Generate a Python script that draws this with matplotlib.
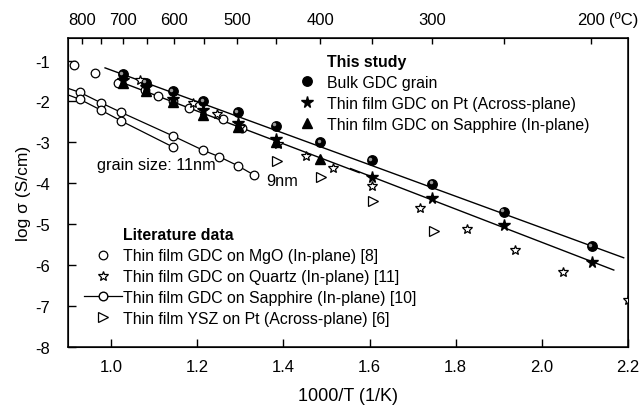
import matplotlib

matplotlib.use("Agg")
import matplotlib.pyplot as plt
import matplotlib.transforms as mtransforms

plt.rcParams["font.family"] = ["Liberation Sans", "DejaVu Sans"]
plt.rcParams["axes.unicode_minus"] = False

# --- data (x = 1000/T in 1/K, y = log sigma) ---
bulk_x = [1.028, 1.081, 1.144, 1.214, 1.294, 1.382, 1.486, 1.605, 1.746, 1.911, 2.116]
bulk_y = [-1.34, -1.55, -1.75, -2.00, -2.27, -2.60, -3.00, -3.44, -4.01, -4.70, -5.54]
bulk_fit_x = [0.986, 2.190]
bulk_fit_y = [-1.18, -5.82]

pt_x = [1.028, 1.081, 1.144, 1.214, 1.294, 1.382, 1.605, 1.746, 1.911, 2.116]
pt_y = [-1.48, -1.65, -1.93, -2.22, -2.52, -2.92, -3.84, -4.35, -5.01, -5.92]
pt_fit_x = [1.556, 2.167]
pt_fit_y = [-3.64, -6.12]

sapph_x = [1.028, 1.081, 1.144, 1.214, 1.294, 1.382, 1.486]
sapph_y = [-1.56, -1.75, -2.02, -2.32, -2.62, -2.98, -3.40]
sapph_fit_x = [1.021, 1.576]
sapph_fit_y = [-1.52, -3.74]

mgo_x = [0.914, 0.963, 1.017, 1.079, 1.110, 1.144, 1.180, 1.260, 1.303]
mgo_y = [-1.10, -1.30, -1.54, -1.71, -1.86, -2.00, -2.16, -2.42, -2.64]

quartz_x = [1.066, 1.190, 1.245, 1.299, 1.388, 1.452, 1.516, 1.605, 1.716, 1.826, 1.938, 2.050, 2.200]
quartz_y = [-1.48, -2.05, -2.30, -2.62, -3.03, -3.33, -3.63, -4.07, -4.61, -5.11, -5.62, -6.17, -6.86]

lit_sapph_a_x = [0.900, 0.928, 0.976, 1.024, 1.143, 1.213, 1.251, 1.294, 1.332]
lit_sapph_a_y = [-1.68, -1.78, -2.03, -2.27, -2.84, -3.19, -3.35, -3.57, -3.80]
lit_sapph_b_x = [0.900, 0.928, 0.976, 1.024, 1.143]
lit_sapph_b_y = [-1.84, -1.95, -2.21, -2.48, -3.11]

ysz_x = [1.386, 1.488, 1.607, 1.750]
ysz_y = [-3.46, -3.85, -4.44, -5.17]

top_temps_major = [800, 700, 600, 500, 400, 300, 200]
top_temps_minor = [750, 650, 550, 450, 350, 250]
top_labels = ["800", "700", "600", "500", "400", "300", "200"]

fig = plt.figure(figsize=(6.4, 4.14), dpi=100)
ax = fig.add_axes([68 / 640, 1 - 348 / 414, 560 / 640, 309 / 414])

# fitted lines
ax.plot(bulk_fit_x, bulk_fit_y, "k-", lw=1.0)
ax.plot(pt_fit_x, pt_fit_y, "k-", lw=1.0)
ax.plot(sapph_fit_x, sapph_fit_y, "k-", lw=1.0)

# literature
ax.plot(lit_sapph_a_x, lit_sapph_a_y, "k-", lw=0.9, zorder=2)
ax.plot(lit_sapph_b_x, lit_sapph_b_y, "k-", lw=0.9, zorder=2)
ax.plot(lit_sapph_a_x[1:], lit_sapph_a_y[1:], "o", ms=6.2, mfc="white",
        mec="k", mew=0.9, zorder=3)
ax.plot(lit_sapph_b_x[1:], lit_sapph_b_y[1:], "o", ms=6.2, mfc="white",
        mec="k", mew=0.9, zorder=3)
h_mgo, = ax.plot(mgo_x, mgo_y, "o", ms=6.2, mfc="white", mec="k", mew=0.9, zorder=3)
h_qz, = ax.plot(quartz_x, quartz_y, "*", ms=7.8, mfc="white", mec="k", mew=0.9, zorder=3)
h_ysz, = ax.plot(ysz_x, ysz_y, ">", ms=6.5, mfc="white", mec="k", mew=0.9, zorder=3)

# this study
h_sa, = ax.plot(sapph_x, sapph_y, "^", ms=7, color="k", zorder=4)
h_pt, = ax.plot(pt_x, pt_y, "*", ms=8.5, color="k", zorder=5)
h_bulk, = ax.plot(bulk_x, bulk_y, "o", ms=6.8, color="k", zorder=6)
shine = mtransforms.offset_copy(ax.transData, fig=fig, x=-1.2, y=1.2, units="points")
ax.plot(bulk_x, bulk_y, "o", ms=2.5, color="#9a9a9a", mew=0, transform=shine, zorder=7)

ax.text(0.967, -3.54, "grain size: 11nm", fontsize=11.8, va="center")
ax.text(1.361, -3.93, "9nm", fontsize=11.8, va="center")

ax.set_xlim(0.9, 2.2)
ax.set_ylim(-8, -0.45)
ax.set_xticks([1.0, 1.2, 1.4, 1.6, 1.8, 2.0, 2.2])
ax.set_yticks([-8, -7, -6, -5, -4, -3, -2, -1])
ax.tick_params(direction="in", length=6, width=1, labelsize=12, top=False, right=False)
ax.tick_params(axis="x", pad=9)
ax.tick_params(axis="y", pad=13)
ax.set_xlabel("1000/T (1/K)", fontsize=13, labelpad=9)
ax.set_ylabel("log σ (S/cm)", fontsize=12.5, labelpad=3)
for s in ax.spines.values():
    s.set_linewidth(1.1)

# top axis in degrees Celsius
top = ax.twiny()
top.set_xlim(ax.get_xlim())
top.set_xticks([1000 / (t + 273.15) for t in top_temps_major])
top.set_xticklabels(top_labels)
top.set_xticks([1000 / (t + 273.15) for t in top_temps_minor], minor=True)
top.tick_params(which="both", direction="in", width=1, labelsize=12, pad=8)
top.tick_params(which="major", length=4.5)
top.tick_params(which="minor", length=4)
top.annotate("(ºC)", xy=(1000 / (200 + 273.15), 1), xycoords=("data", "axes fraction"),
             xytext=(13.5, 8), textcoords="offset points", ha="left", va="bottom",
             fontsize=12, annotation_clip=False)

# legends
blank = plt.Line2D([], [], linestyle="none")
leg_kw = dict(loc="upper left", frameon=False, fontsize=11.4, handlelength=2.4,
              handletextpad=0.1, labelspacing=0.37, borderpad=0, borderaxespad=0)
leg1 = ax.legend([blank, h_bulk, h_pt, h_sa],
                 ["This study", "Bulk GDC grain", "Thin film GDC on Pt (Across-plane)",
                  "Thin film GDC on Sapphire (In-plane)"],
                 bbox_to_anchor=(0.392, 0.948), **leg_kw)
leg1.get_texts()[0].set_fontweight("bold")
ax.add_artist(leg1)

h_lsa_leg = plt.Line2D([], [], color="k", lw=0.9, marker="o", ms=6.2, mfc="white", mec="k")
leg2 = ax.legend([blank, h_mgo, h_qz, h_lsa_leg, h_ysz],
                 ["Literature data", "Thin film GDC on MgO (In-plane) [8]",
                  "Thin film GDC on Quartz (In-plane) [11]",
                  "Thin film GDC on Sapphire (In-plane) [10]",
                  "Thin film YSZ on Pt (Across-plane) [6]"],
                 bbox_to_anchor=(0.028, 0.387), **leg_kw)
leg2.get_texts()[0].set_fontweight("bold")

fig.savefig("out.png", dpi=100)
